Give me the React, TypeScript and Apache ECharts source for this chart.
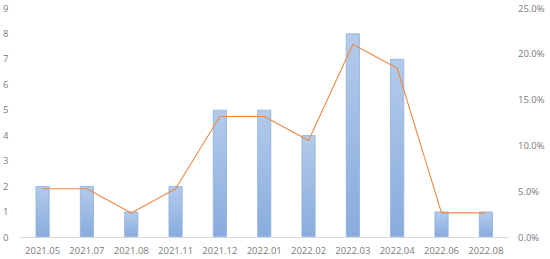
import React, { useEffect, useRef } from "react";
import * as echarts from "echarts";

const categories = ["2021.05", "2021.07", "2021.08", "2021.11", "2021.12", "2022.01", "2022.02", "2022.03", "2022.04", "2022.06", "2022.08"];
const counts = [2, 2, 1, 2, 5, 5, 4, 8, 7, 1, 1];
const shares = [5.26, 5.26, 2.63, 5.26, 13.16, 13.16, 10.53, 21.05, 18.42, 2.63, 2.63];

export default function App() {
  const ref = useRef<HTMLDivElement>(null);
  useEffect(() => {
    const chart = echarts.init(ref.current!, null, { renderer: "svg" });
    const font = "'Open Sans', 'DejaVu Sans', sans-serif";
    const textColor = "#7a7a7a";
    chart.setOption({
      animation: false,
      grid: { left: 20, right: 42, top: 8, bottom: 22 },
      xAxis: {
        type: "category",
        data: categories,
        axisTick: { show: false },
        axisLine: { lineStyle: { color: "#d9d9d9" } },
        axisLabel: { color: textColor, fontSize: 9.5, fontFamily: font, margin: 8, interval: 0 },
      },
      yAxis: [
        {
          type: "value",
          min: 0,
          max: 9,
          interval: 1,
          splitLine: { show: false },
          axisLine: { show: false },
          axisTick: { show: false },
          axisLabel: { color: textColor, fontSize: 9.5, fontFamily: font, margin: 12 },
        },
        {
          type: "value",
          min: 0,
          max: 25,
          interval: 5,
          splitLine: { show: false },
          axisLine: { show: false },
          axisTick: { show: false },
          axisLabel: {
            color: textColor,
            fontSize: 9.5,
            fontFamily: font,
            margin: 10,
            formatter: (v: number) => v.toFixed(1) + "%",
          },
        },
      ],
      series: [
        {
          type: "bar",
          data: counts,
          barWidth: 14,
          itemStyle: {
            color: new echarts.graphic.LinearGradient(0, 0, 0, 1, [
              { offset: 0, color: "#b3cbeb" },
              { offset: 1, color: "#88acdd" },
            ]),
            borderColor: "#8eb0df",
            borderWidth: 0.8,
          },
        },
        {
          type: "line",
          yAxisIndex: 1,
          data: shares,
          symbol: "none",
          lineStyle: { color: "#ee8a45", width: 1.1 },
        },
      ],
    });
    return () => chart.dispose();
  }, []);
  return <div ref={ref} style={{ width: 550, height: 259, position: "absolute", left: 0, top: 0 }} />;
}
